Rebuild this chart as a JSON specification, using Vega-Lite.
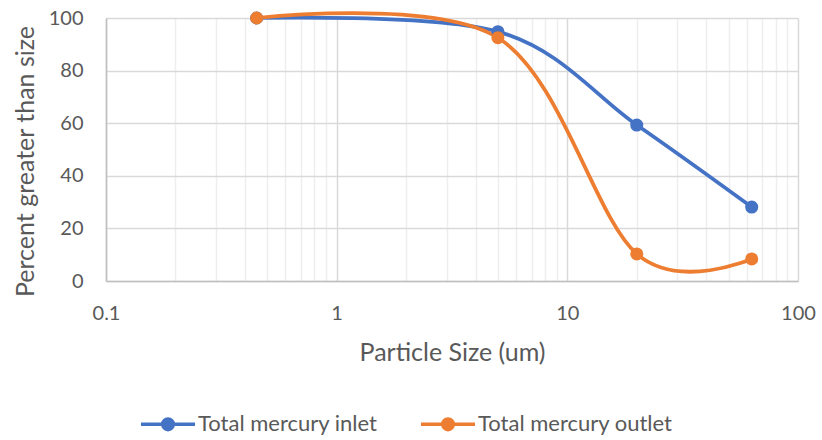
{
  "$schema": "https://vega.github.io/schema/vega-lite/v6.json",
  "width": 692,
  "height": 263,
  "autosize": {"type": "none"},
  "padding": {"left": 106, "top": 18, "right": 24, "bottom": 159},
  "background": "white",
  "config": {
    "font": "Lato",
    "view": {"stroke": null},
    "axis": {"labelColor": "#595959", "titleColor": "#595959", "titleFontWeight": "normal"}
  },
  "data": {
    "values": [
      {"size": 0.45, "pct": 100, "series": "Total mercury inlet"},
      {"size": 5, "pct": 94.8, "series": "Total mercury inlet"},
      {"size": 20, "pct": 59.3, "series": "Total mercury inlet"},
      {"size": 63, "pct": 28.1, "series": "Total mercury inlet"},
      {"size": 0.45, "pct": 100, "series": "Total mercury outlet"},
      {"size": 5, "pct": 92.5, "series": "Total mercury outlet"},
      {"size": 20, "pct": 10.3, "series": "Total mercury outlet"},
      {"size": 63, "pct": 8.4, "series": "Total mercury outlet"}
    ]
  },
  "encoding": {
    "x": {
      "field": "size",
      "type": "quantitative",
      "scale": {"type": "log", "domain": [0.1, 100], "nice": false},
      "axis": {
        "title": "Particle Size (um)",
        "values": [0.1, 0.2, 0.3, 0.4, 0.5, 0.6, 0.7, 0.8, 0.9, 1, 2, 3, 4, 5, 6, 7, 8, 9, 10, 20, 30, 40, 50, 60, 70, 80, 90, 100],
        "format": "~g",
        "labelExpr": "abs(log(datum.value)/LN10 - round(log(datum.value)/LN10)) < 0.000001 ? datum.label : ''",
        "grid": true,
        "gridColor": {"condition": {"test": "abs(log(datum.value)/LN10 - round(log(datum.value)/LN10)) < 0.000001", "value": "#d9d9d9"}, "value": "#eeeeee"},
        "gridWidth": 1.5,
        "ticks": false,
        "tickSize": 0,
        "domainColor": "#bfbfbf",
        "domainWidth": 1.5,
        "labelPadding": 38,
        "labelBaseline": "alphabetic",
        "labelFontSize": 20,
        "labelFlush": false,
        "labelOverlap": false,
        "titleFontSize": 25,
        "titleY": 79,
        "titleBaseline": "alphabetic"
      }
    },
    "y": {
      "field": "pct",
      "type": "quantitative",
      "scale": {"domain": [0, 100], "nice": false},
      "axis": {
        "title": "Percent greater than size",
        "values": [0, 20, 40, 60, 80, 100],
        "grid": true,
        "gridColor": "#d9d9d9",
        "gridWidth": 1.5,
        "ticks": false,
        "tickSize": 0,
        "domainColor": "#bfbfbf",
        "domainWidth": 1.5,
        "labelPadding": 23,
        "labelFontSize": 20,
        "titleFontSize": 25,
        "titleX": -73,
        "titleY": 143,
        "titleAngle": 270,
        "titleBaseline": "alphabetic"
      }
    }
  },
  "layer": [
    {
      "mark": {"type": "line", "interpolate": "cardinal", "strokeWidth": 3.75, "clip": false},
      "encoding": {
        "stroke": {
          "field": "series",
          "type": "nominal",
          "scale": {"domain": ["Total mercury inlet", "Total mercury outlet"], "range": ["#4472C4", "#ED7D31"]},
          "legend": {
            "orient": "none",
            "legendX": 33,
            "legendY": 377,
            "direction": "horizontal",
            "title": null,
            "symbolType": "M-1,0L1,0M0.056,0A0.056,0.056,0,1,1,-0.056,0A0.056,0.056,0,1,1,0.056,0M0.167,0A0.167,0.167,0,1,1,-0.167,0A0.167,0.167,0,1,1,0.167,0M0.196,0A0.196,0.196,0,1,1,-0.196,0A0.196,0.196,0,1,1,0.196,0",
            "symbolSize": 2916,
            "symbolStrokeWidth": 3.5,
            "symbolFillColor": "transparent",
            "symbolOpacity": 1,
            "labelFontSize": 22,
            "labelLimit": 0,
            "labelColor": "#595959",
            "labelOffset": 1,
            "columnPadding": 36,
            "padding": 0
          }
        }
      }
    },
    {
      "mark": {"type": "point", "filled": true, "size": 170, "opacity": 1, "shape": "circle"},
      "encoding": {
        "fill": {
          "field": "series",
          "type": "nominal",
          "scale": {"domain": ["Total mercury inlet", "Total mercury outlet"], "range": ["#4472C4", "#ED7D31"]},
          "legend": null
        }
      }
    }
  ]
}
